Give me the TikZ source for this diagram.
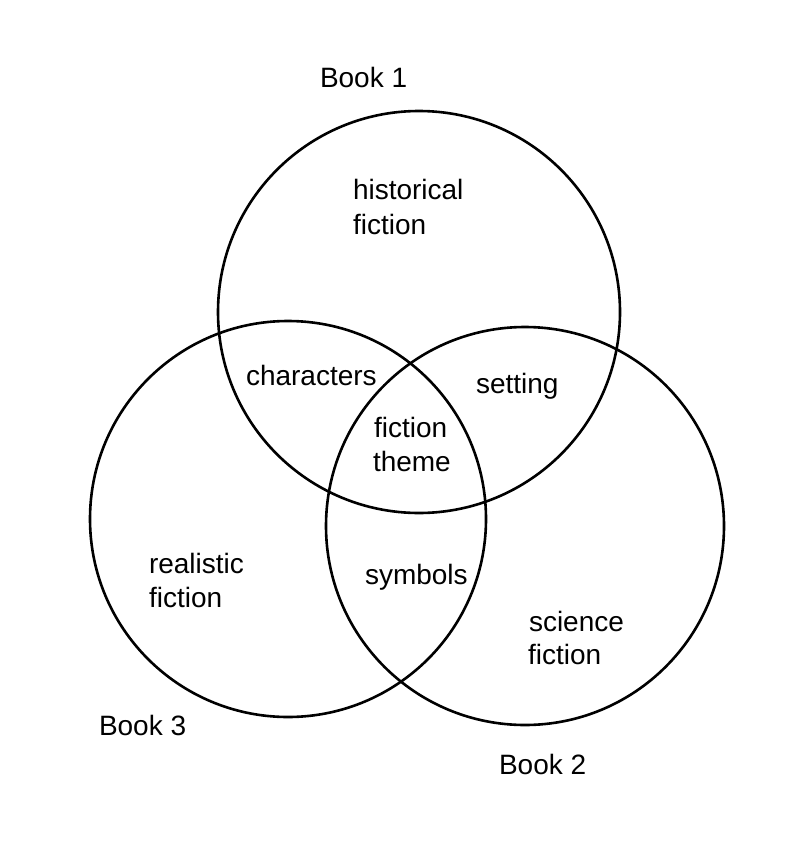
\documentclass[tikz,border=0pt]{standalone}
\usepackage{fontspec}
\setmainfont{Liberation Sans}
\begin{document}
\begin{tikzpicture}[x=1pt,y=-1pt,
  venn/.style={circle,draw=black,line width=2.6pt,inner sep=0pt,fill=none},
  lbl/.style={anchor=base west,inner sep=0pt,outer sep=0pt,font=\fontsize{28}{35}\selectfont,text=black}]
\useasboundingbox[fill=white] (0,0) rectangle (800,843);
% circles
\node[venn,minimum size=402pt] (b1) at (419,312) {};
\node[venn,minimum size=398pt] (b2) at (525,526) {};
\node[venn,minimum size=396pt] (b3) at (288,519) {};
% book titles
\node[lbl] (t1) at (320,87) {Book 1};
\node[lbl] (t3) at (99,735) {Book 3};
\node[lbl] (t2) at (499,774) {Book 2};
% regions
\node[lbl] (h1) at (353,199) {historical};
\node[lbl] (h2) at (353,234) {fiction};
\node[lbl] (ch) at (246,385) {characters};
\node[lbl] (se) at (476,393) {setting};
\node[lbl] (f1) at (374,437) {fiction};
\node[lbl] (f2) at (373,471) {theme};
\node[lbl] (r1) at (149,573) {realistic};
\node[lbl] (r2) at (149,607) {fiction};
\node[lbl] (sy) at (365,584) {symbols};
\node[lbl] (s1) at (529,631) {science};
\node[lbl] (s2) at (528,664) {fiction};
\end{tikzpicture}
\end{document}
